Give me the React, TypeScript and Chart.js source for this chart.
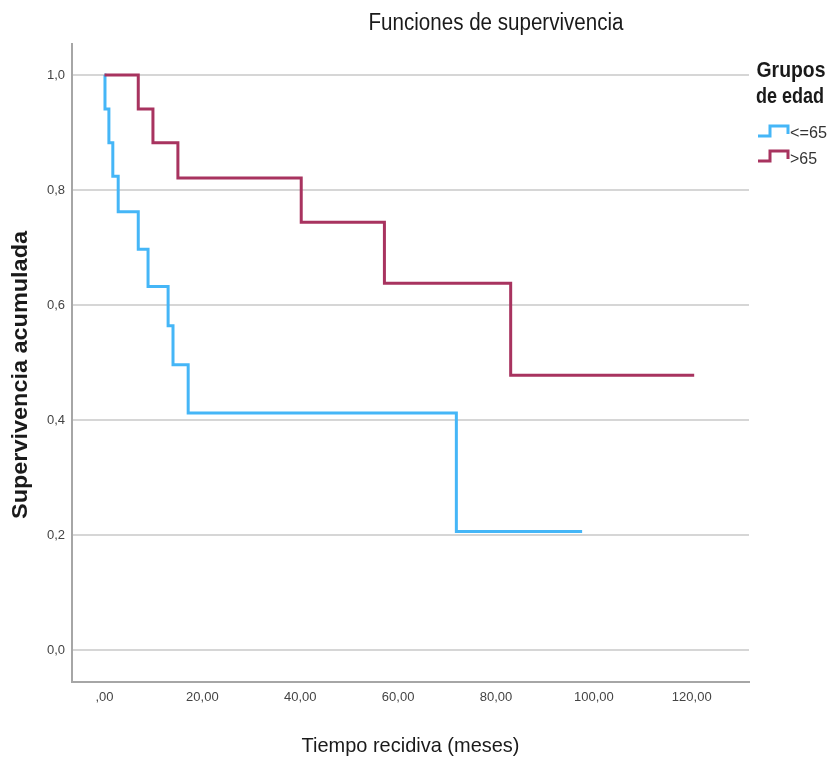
import React, { useEffect, useRef } from "react";
import { Chart, registerables } from "chart.js";

Chart.register(...registerables);

// ---- Data ----
const chartTitle = "Funciones de supervivencia";
const xAxisTitle = "Tiempo recidiva (meses)";
const yAxisTitle = "Supervivencia acumulada";
const legendTitle = ["Grupos", "de edad"];
const groupLabels = ["<=65", ">65"];

const youngTimes = [0, 0.1, 0.9, 1.7, 2.8, 6.9, 8.9, 13.0, 14.0, 17.1, 71.9, 97.6];
const youngSurvival = [1, 0.941, 0.882, 0.824, 0.762, 0.697, 0.632, 0.564, 0.496, 0.412, 0.206, 0.206];
const oldTimes = [0, 6.9, 9.9, 15.0, 40.2, 57.2, 83.0, 120.5];
const oldSurvival = [1, 0.941, 0.882, 0.821, 0.744, 0.638, 0.478, 0.478];

const xTickValues = [0, 20, 40, 60, 80, 100, 120];
const xTickLabels = [",00", "20,00", "40,00", "60,00", "80,00", "100,00", "120,00"];
const yTickValues = [0, 0.2, 0.4, 0.6, 0.8, 1.0];
const yTickLabels = ["0,0", "0,2", "0,4", "0,6", "0,8", "1,0"];

const BLUE = "#45b6f7";
const RED = "#a8335f";
const TICK_FONT = "'Liberation Sans Narrow', 'Liberation Sans', Arial, sans-serif";
const TEXT_FONT = "'Liberation Sans', Arial, sans-serif";

function drawFitted(
  ctx: CanvasRenderingContext2D,
  text: string,
  x: number,
  y: number,
  font: string,
  width: number,
  align: CanvasTextAlign,
  color: string,
  rotate = 0
) {
  ctx.save();
  ctx.font = font;
  const w = ctx.measureText(text).width;
  const s = width / w;
  ctx.translate(x, y);
  if (rotate) ctx.rotate(rotate);
  ctx.scale(s, 1);
  ctx.textAlign = align;
  ctx.textBaseline = "alphabetic";
  ctx.fillStyle = color;
  ctx.fillText(text, 0, 0);
  ctx.restore();
}

function drawStepSymbol(ctx: CanvasRenderingContext2D, x: number, yLow: number, yHigh: number, color: string) {
  ctx.save();
  ctx.strokeStyle = color;
  ctx.lineWidth = 3;
  ctx.lineJoin = "miter";
  ctx.beginPath();
  ctx.moveTo(x, yLow);
  ctx.lineTo(x + 12, yLow);
  ctx.lineTo(x + 12, yHigh);
  ctx.lineTo(x + 30, yHigh);
  ctx.lineTo(x + 30, yHigh + 8);
  ctx.stroke();
  ctx.restore();
}

const decorPlugin = {
  id: "decor",
  afterDraw(chart: any) {
    const ctx: CanvasRenderingContext2D = chart.ctx;
    const area = chart.chartArea;
    drawFitted(ctx, chartTitle, 496, 30, `23px ${TEXT_FONT}`, 255, "center", "#1a1a1a");
    drawFitted(ctx, xAxisTitle, (area.left + area.right) / 2, 752, `21px ${TEXT_FONT}`, 218, "center", "#1a1a1a");
    drawFitted(ctx, yAxisTitle, 27, 375, `bold 22px ${TEXT_FONT}`, 288, "center", "#1a1a1a", -Math.PI / 2);
    drawFitted(ctx, legendTitle[0], 791, 77, `bold 22px ${TEXT_FONT}`, 69, "center", "#1a1a1a");
    drawFitted(ctx, legendTitle[1], 790, 103, `bold 22px ${TEXT_FONT}`, 68, "center", "#1a1a1a");
    drawStepSymbol(ctx, 758, 136, 126, BLUE);
    drawFitted(ctx, groupLabels[0], 790, 138, `16px ${TEXT_FONT}`, 37, "left", "#333");
    drawStepSymbol(ctx, 758, 161, 151, RED);
    drawFitted(ctx, groupLabels[1], 790, 164, `16px ${TEXT_FONT}`, 27, "left", "#333");
  },
};

export default function App() {
  const ref = useRef<HTMLCanvasElement | null>(null);

  useEffect(() => {
    if (!ref.current) return;
    const chart = new Chart(ref.current, {
      type: "line",
      data: {
        datasets: [
          {
            label: groupLabels[0],
            data: youngTimes.map((t, i) => ({ x: t, y: youngSurvival[i] })),
            borderColor: BLUE,
            borderWidth: 3,
            pointRadius: 0,
            stepped: true,
            fill: false,
            order: 2,
            borderJoinStyle: "miter",
          },
          {
            label: groupLabels[1],
            data: oldTimes.map((t, i) => ({ x: t, y: oldSurvival[i] })),
            borderColor: RED,
            borderWidth: 3,
            pointRadius: 0,
            stepped: true,
            fill: false,
            order: 1,
            borderJoinStyle: "miter",
          },
        ],
      },
      options: {
        animation: false,
        responsive: false,
        devicePixelRatio: 1,
        layout: { padding: { top: 44, right: 82, bottom: 0, left: 0 } },
        plugins: {
          legend: { display: false },
          title: { display: false },
          tooltip: { enabled: false },
        },
        scales: {
          x: {
            type: "linear",
            min: -6.64,
            max: 131.7,
            afterFit(scale: any) {
              scale.height = 80;
            },
            afterBuildTicks(scale: any) {
              scale.ticks = xTickValues.map((v) => ({ value: v }));
            },
            ticks: {
              autoSkip: false,
              maxRotation: 0,
              padding: 8,
              color: "#444",
              font: { family: TICK_FONT, size: 13 },
              callback: (v: any) => {
                const i = xTickValues.indexOf(Number(v));
                return i >= 0 ? xTickLabels[i] : "";
              },
            },
            grid: { display: false, drawTicks: false },
            border: { display: true, color: "#a6a6a6", width: 2 },
          },
          y: {
            type: "linear",
            min: -0.0557,
            max: 1.0539,
            afterFit(scale: any) {
              scale.width = 72;
            },
            afterBuildTicks(scale: any) {
              scale.ticks = yTickValues.map((v) => ({ value: v }));
            },
            ticks: {
              autoSkip: false,
              padding: 7,
              color: "#444",
              font: { family: TICK_FONT, size: 13 },
              callback: (v: any) => {
                const i = yTickValues.findIndex((t) => Math.abs(t - Number(v)) < 1e-6);
                return i >= 0 ? yTickLabels[i] : "";
              },
            },
            grid: { display: true, drawTicks: false, color: "#d6d6d6", lineWidth: 2 },
            border: { display: true, color: "#a6a6a6", width: 2 },
          },
        },
      },
      plugins: [decorPlugin],
    } as any);
    return () => chart.destroy();
  }, []);

  return (
    <div style={{ position: "absolute", left: 0, top: 0, width: 831, height: 762, background: "#fff" }}>
      <canvas ref={ref} width={831} height={762} style={{ display: "block" }} />
    </div>
  );
}
